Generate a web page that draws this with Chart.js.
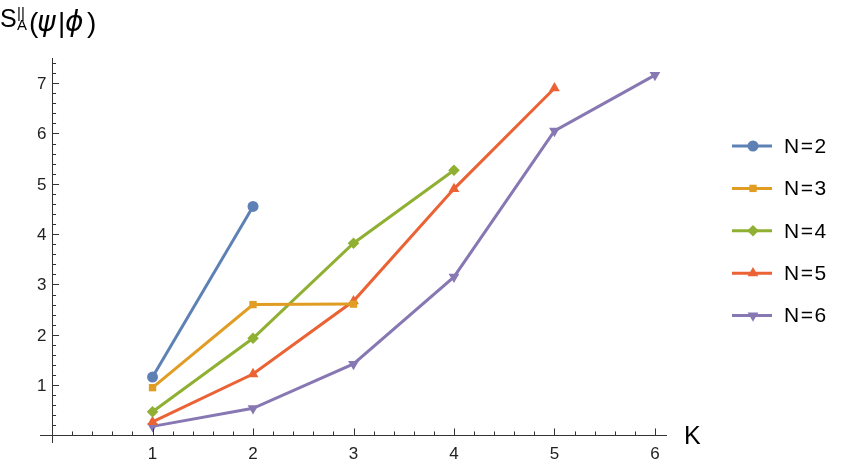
<!DOCTYPE html>
<html>
<head>
<meta charset="utf-8">
<script src="https://cdn.jsdelivr.net/npm/chart.js@4.4.1/dist/chart.umd.min.js"></script>
<style>
  html, body { margin: 0; padding: 0; background: #fff; }
  #wrap { width: 847px; height: 466px; position: relative; }
</style>
</head>
<body>
<div id="wrap"><canvas id="grafico" width="847" height="466"></canvas></div>
<script>
// datos
const kValues = [1, 2, 3, 4, 5, 6];
const serieN2 = [1.16, 4.55];
const serieN3 = [0.95, 2.60, 2.61];
const serieN4 = [0.47, 1.93, 3.82, 5.27];
const serieN5 = [0.27, 1.22, 2.67, 4.90, 6.90];
const serieN6 = [0.18, 0.54, 1.42, 3.15, 6.05, 7.16];
const etiquetas = ["N=2", "N=3", "N=4", "N=5", "N=6"];
const xTicks = [1, 2, 3, 4, 5, 6];
const yTicks = [1, 2, 3, 4, 5, 6, 7];

const colores = ["#5E81B5", "#E19C24", "#8FB032", "#EB6235", "#8778B3"];
const estilos = [
    { pointStyle: "circle", radius: 5.5, rotation: 0 },
    { pointStyle: "rect", radius: 5.2, rotation: 0 },
    { pointStyle: "rectRot", radius: 5.8, rotation: 0 },
    { pointStyle: "triangle", radius: 6.2, rotation: 0 },
    { pointStyle: "triangle", radius: 6.2, rotation: 180 }
];

const series = [serieN2, serieN3, serieN4, serieN5, serieN6];

const datasets = series.map((vals, i) => ({
    label: etiquetas[i],
    data: vals.map((v, j) => ({ x: kValues[j], y: v })),
    borderColor: colores[i],
    backgroundColor: colores[i],
    borderWidth: 3,
    showLine: true,
    pointStyle: estilos[i].pointStyle,
    pointRadius: estilos[i].radius,
    pointRotation: estilos[i].rotation,
    pointBorderWidth: 0,
    pointHoverRadius: estilos[i].radius,
    tension: 0
}));

const FUENTE = "'Liberation Sans', Arial, sans-serif";
const GRIEGA = "'DejaVu Sans', sans-serif";

// ejes estilo Mathematica, leyenda y títulos
const ejesPlugin = {
    id: "ejes",
    afterDatasetsDraw(chart) {
        const ctx = chart.ctx;
        const xs = chart.scales.x;
        const ys = chart.scales.y;
        const x0 = xs.getPixelForValue(0);
        const y0 = ys.getPixelForValue(0);

        ctx.save();
        ctx.strokeStyle = "#333";
        ctx.lineWidth = 1;

        // eje x
        ctx.beginPath();
        ctx.moveTo(xs.left, Math.round(y0) + 0.5);
        ctx.lineTo(xs.right, Math.round(y0) + 0.5);
        // eje y
        ctx.moveTo(Math.round(x0) + 0.5, ys.bottom);
        ctx.lineTo(Math.round(x0) + 0.5, ys.top);
        ctx.stroke();

        // marcas x
        ctx.beginPath();
        for (let t = 0.2; t <= xs.max + 1e-6; t += 0.2) {
            const px = Math.round(xs.getPixelForValue(t)) + 0.5;
            const mayor = Math.abs(t - Math.round(t)) < 1e-6;
            ctx.moveTo(px, y0);
            ctx.lineTo(px, y0 - (mayor ? 7 : 4));
        }
        // marcas y
        for (let t = 0.2; t <= ys.max + 1e-6; t += 0.2) {
            const py = Math.round(ys.getPixelForValue(t)) + 0.5;
            const mayor = Math.abs(t - Math.round(t)) < 1e-6;
            ctx.moveTo(x0, py);
            ctx.lineTo(x0 + (mayor ? 7 : 4), py);
        }
        ctx.stroke();

        // etiquetas de marcas
        ctx.fillStyle = "#222";
        ctx.font = "17px " + FUENTE;
        ctx.textAlign = "center";
        ctx.textBaseline = "alphabetic";
        xTicks.forEach(t => ctx.fillText(String(t), xs.getPixelForValue(t), 459));
        ctx.textAlign = "right";
        yTicks.forEach(t => ctx.fillText(String(t), x0 - 5.5, ys.getPixelForValue(t) + 6));

        // título del eje x
        ctx.font = "25px " + FUENTE;
        ctx.textAlign = "left";
        ctx.fillStyle = "#000";
        ctx.fillText("K", 684, 444);

        // título del eje y: S_A^||(ψ|ϕ)
        ctx.font = "25px " + FUENTE;
        ctx.fillText("S", 0, 27);
        ctx.font = "15px " + FUENTE;
        ctx.fillText("||", 17, 18);
        ctx.fillText("A", 17, 30);
        ctx.font = "28px " + FUENTE;
        ctx.fillText("(", 29, 32);
        ctx.fillText("|", 58, 32);
        ctx.fillText(")", 87, 32);
        ctx.font = "italic 28px " + GRIEGA;
        ctx.fillText("ψ", 37, 31);
        ctx.fillText("ϕ", 65, 31);

        // leyenda
        const lx = 732, lw = 40, ly0 = 146, paso = 42.4;
        chart.data.datasets.forEach((ds, i) => {
            const ly = ly0 + i * paso;
            ctx.strokeStyle = ds.borderColor;
            ctx.lineWidth = ds.borderWidth;
            ctx.beginPath();
            ctx.moveTo(lx, ly);
            ctx.lineTo(lx + lw, ly);
            ctx.stroke();
            ctx.fillStyle = ds.backgroundColor;
            Chart.helpers.drawPoint(ctx, {
                pointStyle: ds.pointStyle,
                radius: ds.pointRadius,
                rotation: ds.pointRotation,
                borderWidth: 0
            }, lx + lw / 2 + 1, ly);
            ctx.fillStyle = "#000";
            ctx.font = "21px " + FUENTE;
            ctx.letterSpacing = "1.5px";
            ctx.textAlign = "left";
            ctx.textBaseline = "middle";
            ctx.fillText(ds.label, 784, ly + 1);
            ctx.letterSpacing = "0px";
        });

        ctx.restore();
    }
};

new Chart(document.getElementById("grafico"), {
    type: "scatter",
    data: { datasets },
    options: {
        responsive: false,
        animation: false,
        devicePixelRatio: 1,
        layout: { padding: { left: 40, right: 180, top: 58, bottom: 23 } },
        plugins: { legend: { display: false }, tooltip: { enabled: false } },
        scales: {
            x: { type: "linear", min: -0.12, max: 6.12, display: false },
            y: { type: "linear", min: -0.15, max: 7.5, display: false }
        }
    },
    plugins: [ejesPlugin]
});
</script>
</body>
</html>
